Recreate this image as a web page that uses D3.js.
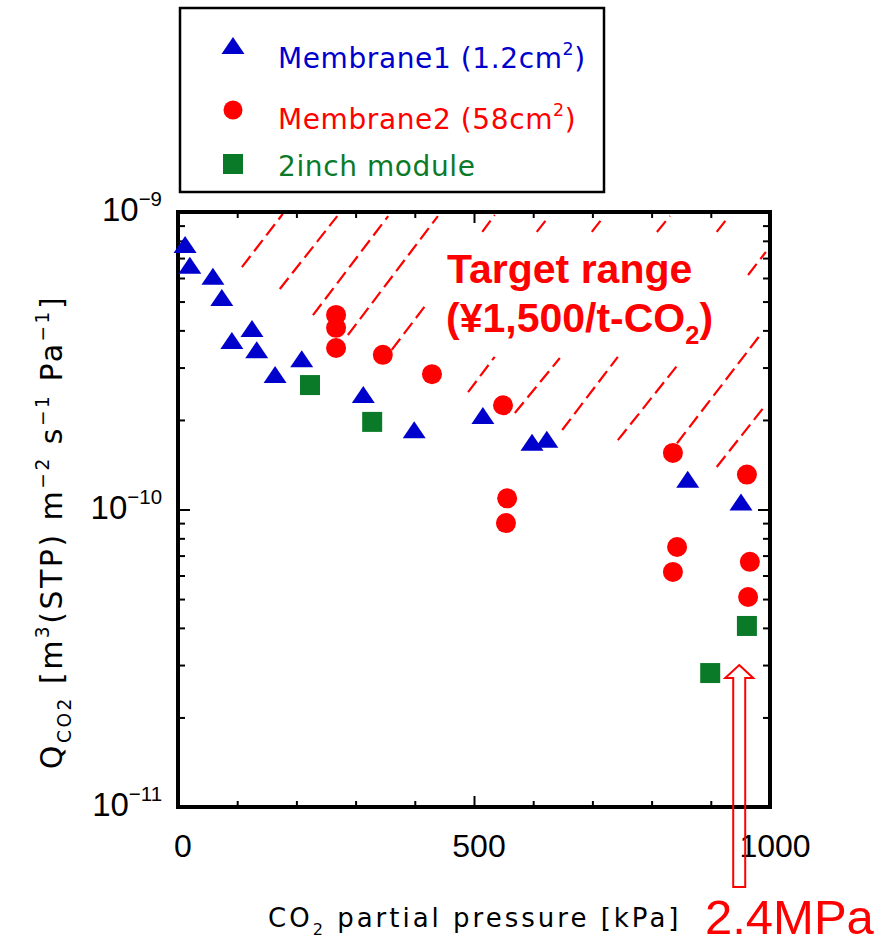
<!DOCTYPE html>
<html>
<head>
<meta charset="utf-8">
<script src="https://cdn.jsdelivr.net/npm/d3@7"></script>
<style>
  body { margin: 0; background: #fff; }
  svg { display: block; font-family: "DejaVu Sans", "Liberation Sans", sans-serif; }
</style>
</head>
<body>
<div id="chart"></div>
<script>
// Data_____________________________________________
const pressure1 = [12, 20, 59, 74, 91, 125, 133, 164, 209, 313, 399, 515, 598, 623, 861, 951];
const q1 = [7.63e-10, 6.49e-10, 5.96e-10, 5.06e-10, 3.63e-10, 3.98e-10, 3.38e-10, 2.79e-10,
            3.15e-10, 2.39e-10, 1.82e-10, 2.03e-10, 1.65e-10, 1.69e-10, 1.24e-10, 1.04e-10];

const pressure2 = [267, 267, 267, 346, 429, 549, 556, 554, 836, 843, 836, 961, 966, 963];
const q2 = [4.51e-10, 4.08e-10, 3.49e-10, 3.31e-10, 2.85e-10, 2.24e-10, 1.09e-10, 9.0e-11,
            1.55e-10, 7.48e-11, 6.17e-11, 1.31e-10, 6.67e-11, 5.08e-11];

const pressure3 = [223, 328, 961, 899];
const q3 = [2.62e-10, 1.97e-10, 4.06e-11, 2.82e-11];

const xTicks = [0, 500, 1000];
const yMajor = [1e-11, 1e-10, 1e-9];
const yExp = ['\u221211', '\u221210', '\u22129'];

// hatched "target range" strokes, [p0, q0, p1, q1]
const hatch = [
    [108, 6.53e-10, 177, 9.85e-10],
    [172, 5.51e-10, 269, 9.69e-10],
    [228, 4.50e-10, 355, 9.69e-10],
    [287, 3.86e-10, 439, 9.69e-10],
    [361, 3.44e-10, 421, 4.94e-10],
    [514, 8.57e-10, 535, 9.77e-10],
    [606, 8.57e-10, 627, 9.69e-10],
    [490, 2.48e-10, 535, 3.26e-10],
    [699, 8.57e-10, 720, 9.69e-10],
    [569, 2.11e-10, 645, 3.23e-10],
    [809, 8.57e-10, 831, 9.69e-10],
    [649, 1.85e-10, 743, 3.26e-10],
    [910, 8.57e-10, 931, 9.69e-10],
    [743, 1.71e-10, 848, 3.13e-10],
    [963, 6.14e-10, 993, 7.34e-10],
    [843, 1.67e-10, 986, 3.92e-10],
    [910, 1.39e-10, 993, 2.25e-10]
];

const arrowP = 948;
const arrowQ = 3.0e-11;

const blue = '#0000cc', red = '#ff0000', green = '#0b7a28';

// Layout___________________________________________
const width = 890, height = 947;
const padL = 178, padR = 770, padT = 212, padB = 807;
const labFont = '"Liberation Sans", Arial, sans-serif';

const svg = d3.select('#chart').append('svg')
    .attr('width', width)
    .attr('height', height);

const x = d3.scaleLinear().domain([0, 1000]).range([padL, padR]);
const y = d3.scaleLog().domain([1e-11, 1e-9]).range([padB, padT]);

// helper for text with sub/superscripts
function richText(sel, parts, size) {
    let shift = 0;
    parts.forEach(p => {
        const want = p.sup ? -size * 0.45 : p.sub ? size * 0.3 : 0;
        sel.append('tspan')
            .attr('dy', want - shift)
            .attr('font-size', (p.sup || p.sub) ? size * 0.62 : size)
            .text(p.t);
        shift = want;
    });
    return sel;
}

// Hatching_________________________________________
svg.append('g').selectAll('line')
    .data(hatch)
    .enter()
    .append('line')
    .attr('x1', d => x(d[0])).attr('y1', d => y(d[1]))
    .attr('x2', d => x(d[2])).attr('y2', d => y(d[3]))
    .attr('stroke', red)
    .attr('stroke-width', 2.2)
    .attr('stroke-dasharray', '14,6');

// Target text
const tgt = svg.append('g').attr('fill', red).attr('font-weight', 'bold')
    .style('font-family', labFont);
tgt.append('text').attr('x', 447).attr('y', 283).attr('font-size', 41).text('Target range');
richText(tgt.append('text').attr('x', 446).attr('y', 332),
    [{t: '(\u00a51,500/t-CO'}, {t: '2', sub: true}, {t: ')'}], 41);

// Axes ticks______________________________________
function ticks(axisFn, vals, len, tr) {
    svg.append('g')
        .attr('transform', tr)
        .call(axisFn.tickValues(vals).tickSizeInner(-len).tickSizeOuter(0).tickFormat(''))
        .call(g => g.select('.domain').remove())
        .call(g => g.selectAll('line').attr('stroke', '#000').attr('stroke-width', 2));
}
const yMinor = y.ticks().filter(v => !yMajor.some(m => Math.abs(m - v) / m < 1e-6));
const xMinor = d3.range(100, 1000, 100).filter(v => v !== 500);

ticks(d3.axisLeft(y), yMajor, 12, `translate(${padL},0)`);
ticks(d3.axisLeft(y), yMinor, 7, `translate(${padL},0)`);
ticks(d3.axisRight(y), yMajor, 12, `translate(${padR},0)`);
ticks(d3.axisRight(y), yMinor, 7, `translate(${padR},0)`);
ticks(d3.axisBottom(x), [500], 11, `translate(0,${padB})`);
ticks(d3.axisBottom(x), xMinor, 6, `translate(0,${padB})`);
ticks(d3.axisTop(x), [500], 11, `translate(0,${padT})`);
ticks(d3.axisTop(x), xMinor, 6, `translate(0,${padT})`);

// frame
svg.append('rect')
    .attr('x', padL).attr('y', padT)
    .attr('width', padR - padL).attr('height', padB - padT)
    .attr('fill', 'none').attr('stroke', '#000').attr('stroke-width', 4);

// tick labels
svg.append('g').selectAll('text')
    .data(xTicks)
    .enter()
    .append('text')
    .attr('x', d => x(d) + 5)
    .attr('y', padB + 50)
    .attr('text-anchor', 'middle')
    .attr('font-size', 32)
    .style('font-family', labFont)
    .text(d => d);

yMajor.forEach((v, i) => {
    const t = svg.append('text')
        .attr('x', 162)
        .attr('y', y(v) + 9)
        .attr('text-anchor', 'end')
        .style('font-family', labFont);
    richText(t, [{t: '10'}, {t: yExp[i], sup: true}], 33);
});

// Axis titles
richText(svg.append('text')
    .attr('x', 268).attr('y', 927)
    .attr('letter-spacing', 3),
    [{t: 'CO'}, {t: '2', sub: true}, {t: ' partial pressure [kPa]'}], 26);

richText(svg.append('text')
    .attr('transform', 'translate(62,532) rotate(-90)')
    .attr('text-anchor', 'middle')
    .attr('letter-spacing', 2.5),
    [{t: 'Q'}, {t: 'CO2', sub: true}, {t: ' [m'}, {t: '3', sup: true}, {t: '(STP) m'},
     {t: '\u22122', sup: true}, {t: ' s'}, {t: '\u22121', sup: true}, {t: ' Pa'},
     {t: '\u22121', sup: true}, {t: ']'}], 30);

// Data points_____________________________________
const tri = 'M0,-11L11.5,6L-11.5,6Z';
const sq = 'M-10,-10H10V10H-10Z';

svg.append('g').selectAll('path')
    .data(d3.zip(pressure1, q1))
    .enter()
    .append('path')
    .attr('d', tri)
    .attr('transform', d => `translate(${x(d[0])},${y(d[1])})`)
    .attr('fill', blue);

svg.append('g').selectAll('circle')
    .data(d3.zip(pressure2, q2))
    .enter()
    .append('circle')
    .attr('cx', d => x(d[0]))
    .attr('cy', d => y(d[1]))
    .attr('r', 10)
    .attr('fill', red);

svg.append('g').selectAll('path')
    .data(d3.zip(pressure3, q3))
    .enter()
    .append('path')
    .attr('d', sq)
    .attr('transform', d => `translate(${x(d[0])},${y(d[1])})`)
    .attr('fill', green);

// 2.4 MPa arrow
const ax = x(arrowP), ay = y(arrowQ), aBot = padB + 80;
svg.append('path')
    .attr('d', `M${ax},${ay} L${ax + 14},${ay + 13} L${ax + 6},${ay + 13} L${ax + 6},${aBot}
                L${ax - 6},${aBot} L${ax - 6},${ay + 13} L${ax - 14},${ay + 13} Z`)
    .attr('fill', 'none')
    .attr('stroke', red)
    .attr('stroke-width', 2);

svg.append('text')
    .attr('x', 705).attr('y', 934)
    .attr('font-size', 49)
    .attr('fill', red)
    .style('font-family', labFont)
    .text('2.4MPa');

// Legend__________________________________________
const legend = svg.append('g').attr('id', 'legend');
legend.append('rect')
    .attr('x', 180).attr('y', 8)
    .attr('width', 424).attr('height', 184)
    .attr('fill', '#fff').attr('stroke', '#000').attr('stroke-width', 2.5);

const legItems = [
    {shape: tri, color: blue, cy: 48, ty: 68, parts: [{t: 'Membrane1 (1.2cm'}, {t: '2', sup: true}, {t: ')'}]},
    {shape: null, color: red, cy: 110, ty: 129, parts: [{t: 'Membrane2 (58cm'}, {t: '2', sup: true}, {t: ')'}]},
    {shape: sq, color: green, cy: 164, ty: 176, parts: [{t: '2inch module'}]}
];
legItems.forEach(it => {
    if (it.shape) {
        legend.append('path').attr('d', it.shape)
            .attr('transform', `translate(233,${it.cy})`).attr('fill', it.color);
    } else {
        legend.append('circle').attr('cx', 233).attr('cy', it.cy).attr('r', 9.5).attr('fill', it.color);
    }
    richText(legend.append('text')
        .attr('x', 278).attr('y', it.ty)
        .attr('fill', it.color)
        .attr('letter-spacing', 0.6), it.parts, 28);
});
</script>
</body>
</html>
